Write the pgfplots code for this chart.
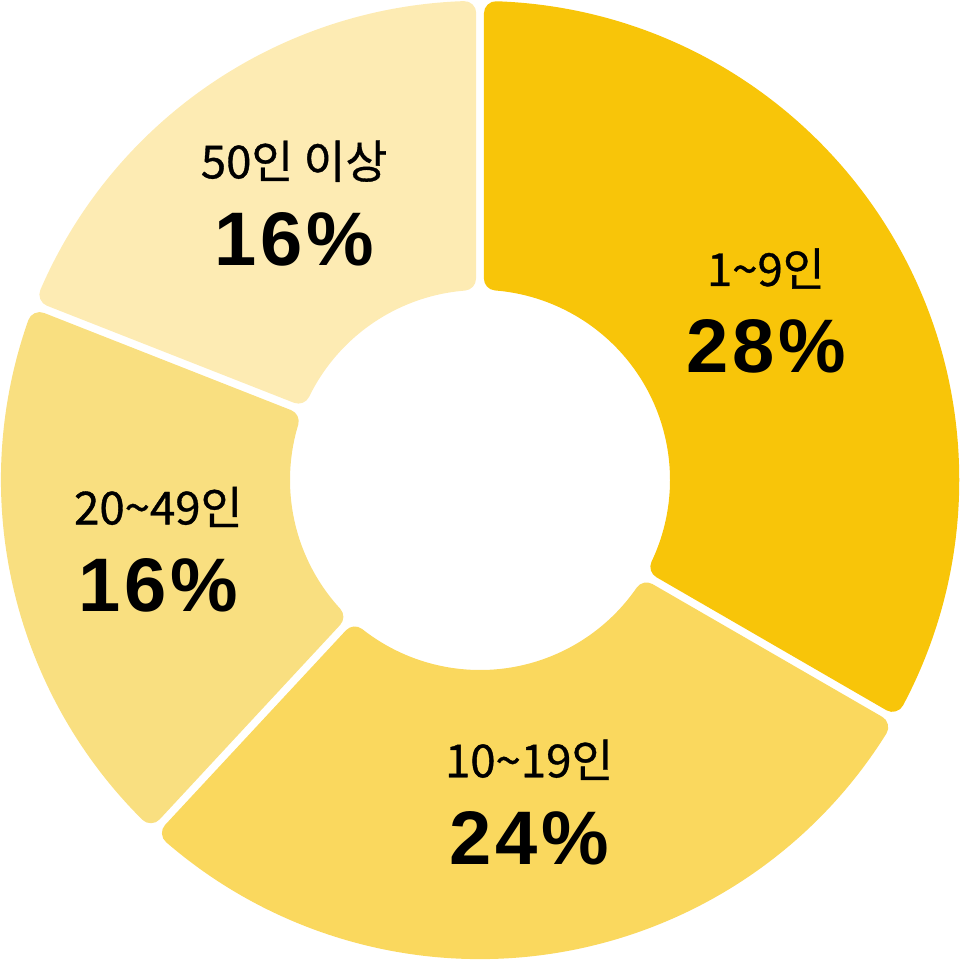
\documentclass[border=0pt]{standalone}
\usepackage{pgfplots}
\pgfplotsset{compat=1.18}
\usepackage{pgfplotstable}
\usepackage{fontspec}
\setmainfont{Noto Sans CJK KR}
\newfontfamily\labfont[FakeBold=0.8]{Noto Sans CJK KR}
\newfontfamily\pctfont[LetterSpace=5]{Liberation Sans}
\definecolor{cA}{HTML}{F8C509}
\definecolor{cB}{HTML}{FAD85E}
\definecolor{cC}{HTML}{F9DF80}
\definecolor{cD}{HTML}{FDEBB3}

% share of each group (percent), colour of its sector
\pgfplotstableread[col sep=comma]{
label,value,color
1\textasciitilde 9인,28,cA
10\textasciitilde 19인,24,cB
20\textasciitilde 49인,16,cC
50인 이상,16,cD
}\data

\def\pxu{0.0104167cm}% one reference pixel
\def\Ro{479}  % outer radius (px)
\def\Ri{190}  % inner radius (px)
\def\gap{8}   % gap between sectors (px)
\def\rc{12}   % corner radius (px)
\def\rl{330}  % radius of label centres (px)

\begin{document}
\begin{tikzpicture}
\begin{axis}[
  width=10cm, height=10cm, scale only axis,
  xmin=-480, xmax=480, ymin=-480, ymax=480,
  hide axis, clip=false,
]
\pgfplotsextra{%
  \pgfplotstablegetrowsof{\data}%
  \pgfmathtruncatemacro\N{\pgfplotsretval-1}%
  \gdef\total{0}%
  \foreach \i in {0,...,\N}{%
    \pgfplotstablegetelem{\i}{value}\of\data
    \pgfmathsetmacro\t{\total+\pgfplotsretval}%
    \xdef\total{\t}%
  }%
  \gdef\cum{90}%
  \pgfmathsetmacro\ro{\Ro-\rc}%
  \pgfmathsetmacro\ri{\Ri+\rc}%
  \pgfmathsetmacro\dd{\gap/2+\rc}%
  \pgfmathsetmacro\dO{asin(\dd/\ro)}%
  \pgfmathsetmacro\dI{asin(\dd/\ri)}%
  \foreach \i in {0,...,\N}{%
    \pgfplotstablegetelem{\i}{value}\of\data \let\v\pgfplotsretval
    \pgfplotstablegetelem{\i}{color}\of\data \let\col\pgfplotsretval
    \pgfplotstablegetelem{\i}{label}\of\data \let\lab\pgfplotsretval
    \pgfmathsetmacro\aS{\cum}%
    \pgfmathsetmacro\aE{\cum-360*\v/\total}%
    \pgfmathsetmacro\aM{(\aS+\aE)/2}%
    \pgfmathsetmacro\sO{\aS-\dO}%
    \pgfmathsetmacro\eO{\aE+\dO}%
    \pgfmathsetmacro\sI{\aS-\dI}%
    \pgfmathsetmacro\eI{\aE+\dI}%
    \filldraw[fill=\col, draw=\col, line width=2*\rc*\pxu, line join=round]
      (axis cs:{\ro*cos(\sO)},{\ro*sin(\sO)})
      arc[start angle=\sO, end angle=\eO, radius=\ro*\pxu]
      -- (axis cs:{\ri*cos(\eI)},{\ri*sin(\eI)})
      arc[start angle=\eI, end angle=\sI, radius=\ri*\pxu]
      -- cycle;
    \pgfmathsetmacro\lx{\rl*cos(\aM)}%
    \pgfmathsetmacro\ly{\rl*sin(\aM)}%
    \node[anchor=base, inner sep=0pt, font=\fontsize{13.5}{15}\labfont]
      at (axis cs:\lx,\ly+29) {\lab};
    \node[anchor=base, inner sep=0pt, font=\fontsize{22.5}{24}\pctfont\bfseries]
      at (axis cs:\lx,\ly-58) {\v\%};
    \xdef\cum{\aE}%
  }%
}
\coordinate (ll) at (axis cs:-480,-480);
\coordinate (ur) at (axis cs:480,480);
\end{axis}
\pgfresetboundingbox
\path[use as bounding box] (ll) rectangle (ur);
\end{tikzpicture}
\end{document}
